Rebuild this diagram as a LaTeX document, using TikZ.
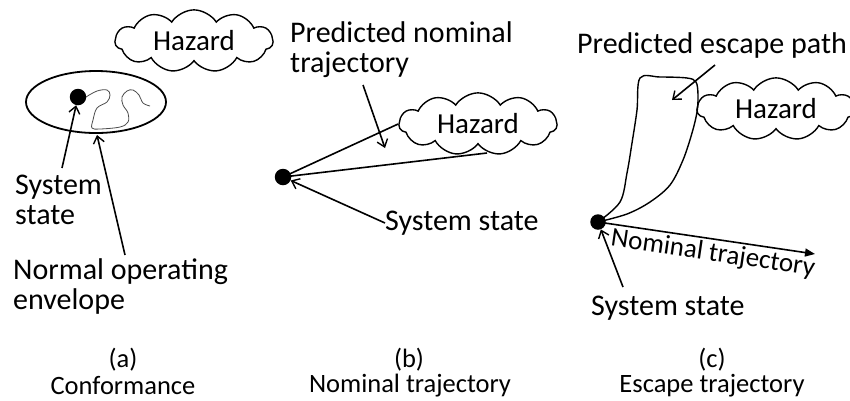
\documentclass[tikz,border=0pt]{standalone}
\usepackage{fontspec}
\setmainfont{Carlito}
\usetikzlibrary{shapes.symbols,shapes.geometric,arrows.meta,calc}
\begin{document}
\begin{tikzpicture}[x=1pt,y=-1pt,
  lbl/.style={inner sep=0pt,font=\fontsize{30}{30}\selectfont},
  captext/.style={inner sep=0pt,font=\fontsize{26.5}{26.5}\selectfont},
  hazard/.style={cloud,draw,line width=1.4pt,cloud puffs=11,cloud puff arc=115,aspect=2.5,
    minimum width=158pt,minimum height=62pt,inner sep=0pt,font=\fontsize{29}{29}\selectfont},
  statedot/.style={circle,fill=black,inner sep=0pt,minimum size=16.5pt},
  ln/.style={line width=1.6pt},
  arr/.style={ln,-{Straight Barb[length=7pt,width=11pt,line width=1.4pt]}},
]
\useasboundingbox (0,0) rectangle (850,400);

% ---------- panel (a)
\node[hazard] (hazA) at (194,41) {Hazard};
\node[draw,ellipse,line width=1.8pt,minimum width=140pt,minimum height=62pt,inner sep=0pt] (env) at (96,102) {};
\node[statedot] (dotA) at (78,97) {};
\draw[gray!60!black,line width=0.8pt] plot[smooth,tension=0.6] coordinates {(86,97) (97,91) (107,90) (110,95) (107,102) (97,108) (93,120) (92,128) (100,129) (120,127) (128,122) (128,113) (123,105) (122,97) (127,91) (133,90) (139,95) (143,103) (150,106)};
\node[lbl,anchor=west,align=left] (ssA) at (15,200) {System\\state};
\coordinate (ssAt) at (62,168);
\draw[arr] (ssAt) -- (dotA);
\node[lbl,anchor=west,align=left] (noeA) at (13,286) {Normal operating\\envelope};
\coordinate (noeAt) at (125,255);
\coordinate (noeAh) at (97,135);
\draw[arr] (noeAt) -- (noeAh);
\node[captext] (capAa) at (123,360) {(a)};
\node[captext] (capA) at (123,386) {Conformance};

% ---------- panel (b)
\node[lbl,anchor=west,align=left] (pntB) at (290,50) {Predicted nominal\\trajectory};
\node[hazard] (hazB) at (478,124) {Hazard};
\node[statedot] (dotB) at (283,177) {};
\coordinate (hazBlow) at (487,153);
\draw[ln] (dotB.center) -- (hazB.west);
\draw[ln] (dotB.center) -- (hazBlow);
\coordinate (pntBt) at (363,85);
\coordinate (pntBh) at (385,148);
\draw[arr] (pntBt) -- (pntBh);
\node[lbl,anchor=west] (ssB) at (385,223) {System state};
\draw[arr] (ssB.west) -- (dotB);
\node[captext] (capBb) at (409,360) {(b)};
\node[captext] (capB) at (410,386) {Nominal trajectory};

% ---------- panel (c)
\node[lbl] (pepC) at (712,45) {Predicted escape path};
\node[hazard] (hazC) at (776,109) {Hazard};
\draw[line width=1.4pt] plot[smooth,tension=0.55] coordinates {(598,222) (620,202) (627,173) (632,143) (637,110) (640,78) (660,77) (687,78) (696,82) (698,95) (697,112) (692,133) (683,160) (670,185) (650,202) (627,214) (598,222)};
\node[statedot,minimum size=15.5pt] (dotC) at (598,222) {};
\coordinate (pepCt) at (715,65);
\coordinate (pepCh) at (672,100);
\draw[arr] (pepCt) -- (pepCh);
\coordinate (ntC) at (815,254);
\draw[ln,-{Triangle[length=10pt,width=8pt]}] (dotC.center) -- (ntC);
\node[inner sep=0pt,rotate=-8.4,font=\fontsize{27}{27}\selectfont] (ntlC) at (713,254) {Nominal trajectory};
\node[lbl,anchor=west] (ssC) at (591,308) {System state};
\coordinate (ssCt) at (623,287);
\draw[arr] (ssCt) -- (dotC);
\node[captext] (capCc) at (712,360) {(c)};
\node[captext] (capC) at (712,386) {Escape trajectory};
\end{tikzpicture}
\end{document}
